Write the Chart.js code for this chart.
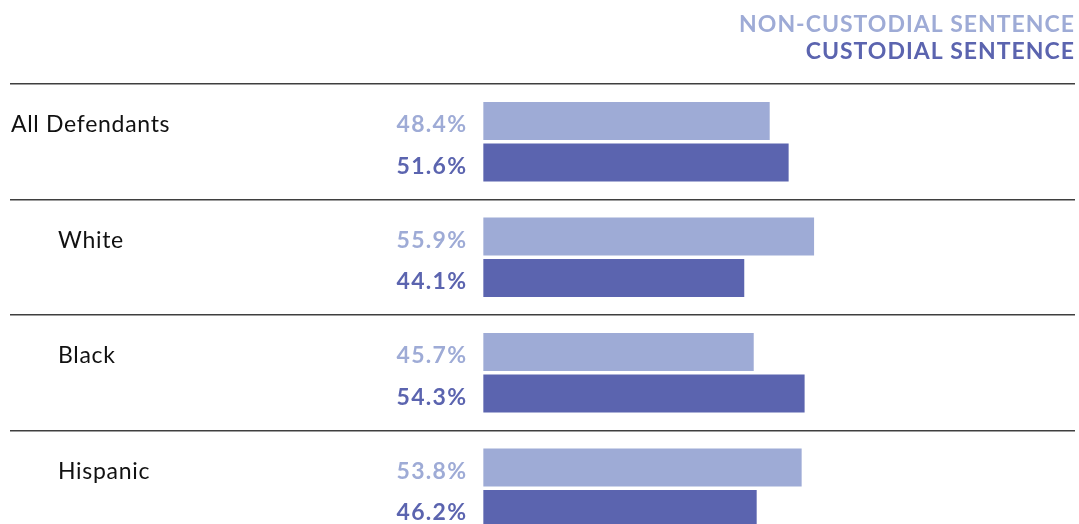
<!DOCTYPE html>
<html>
<head>
<meta charset="utf-8">
<script src="https://cdn.jsdelivr.net/npm/chart.js@4/dist/chart.umd.min.js"></script>
<style>
  html, body { margin: 0; padding: 0; background: #fff; overflow: hidden; }
  #wrap { width: 1079px; height: 546px; }
</style>
</head>
<body>
<div id="wrap"><canvas id="sentenceChart"></canvas></div>
<script>
var groups = ["All Defendants", "White", "Black", "Hispanic"];
var nonCustodial = [48.4, 55.9, 45.7, 53.8];
var custodial = [51.6, 44.1, 54.3, 46.2];
var seriesNames = ["NON-CUSTODIAL SENTENCE", "CUSTODIAL SENTENCE"];

var lightColor = "#9eabd6";
var darkColor = "#5b64af";
var fontName = "Lato, 'Open Sans', sans-serif";

// labels, percentages and legend text
var labelPlugin = {
    id: "labelPlugin",
    afterDatasetsDraw: function (chart) {
        var ctx = chart.ctx;
        ctx.save();

        // legend, top right
        ctx.textAlign = "right";
        ctx.textBaseline = "alphabetic";
        ctx.font = "bold 23px " + fontName;
        ctx.letterSpacing = "1px";
        ctx.fillStyle = lightColor;
        ctx.fillText(seriesNames[0], 1075, 32);
        ctx.fillStyle = darkColor;
        ctx.fillText(seriesNames[1], 1075, 59);

        var x0 = chart.scales.x.getPixelForValue(0);
        var colors = [lightColor, darkColor];
        chart.data.datasets.forEach(function (ds, di) {
            var meta = chart.getDatasetMeta(di);
            meta.data.forEach(function (bar, i) {
                ctx.font = "bold 23px " + fontName;
                ctx.letterSpacing = "1.3px";
                ctx.fillStyle = colors[di];
                ctx.textAlign = "right";
                ctx.textBaseline = "middle";
                ctx.fillText(ds.data[i].toFixed(1) + "%", x0 - 16, bar.y + 4);

                if (di == 0) {
                    ctx.font = "23px " + fontName;
                    ctx.letterSpacing = "0.7px";
                    ctx.fillStyle = "#111";
                    ctx.textAlign = "left";
                    ctx.fillText(chart.data.labels[i], i == 0 ? 11 : 58, bar.y + 4);
                }
            });
        });
        ctx.restore();
    }
};

var chart = new Chart("sentenceChart", {
    type: "bar",
    data: {
        labels: groups,
        datasets: [{
            label: seriesNames[0],
            backgroundColor: lightColor,
            data: nonCustodial
        }, {
            label: seriesNames[1],
            backgroundColor: darkColor,
            data: custodial
        }]
    },
    options: {
        indexAxis: "y",
        responsive: true,
        maintainAspectRatio: false,
        animation: false,
        categoryPercentage: 0.719,
        barPercentage: 0.916,
        layout: { padding: { top: 84, left: 10, right: 4, bottom: 0 } },
        plugins: {
            legend: { display: false },
            tooltip: { enabled: false }
        },
        scales: {
            x: { display: false, min: -80, max: 100 },
            y: {
                display: true,
                ticks: { display: false },
                border: { display: false },
                grid: { offset: true, drawTicks: false, color: "#3f3f3f", lineWidth: 1.5 }
            }
        }
    },
    plugins: [labelPlugin]
});
</script>
</body>
</html>
